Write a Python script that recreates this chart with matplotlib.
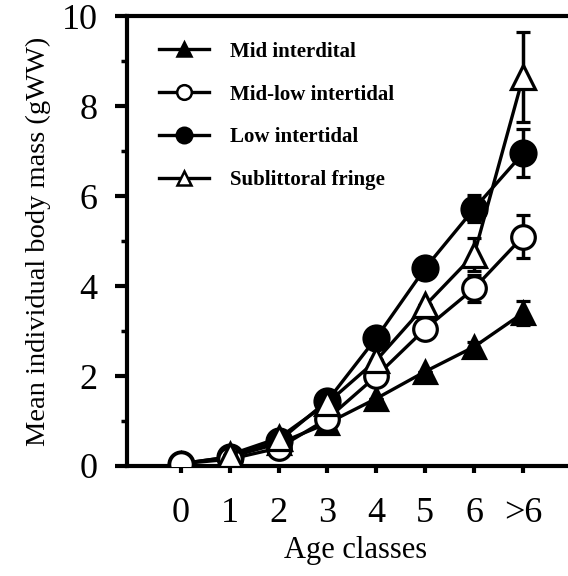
import matplotlib
matplotlib.use("Agg")
import matplotlib.pyplot as plt
from matplotlib.lines import Line2D
from matplotlib.ticker import MultipleLocator

# Age classes (">6" plotted at position 7)
age_pos = [0, 1, 2, 3, 4, 5, 6, 7]
age_labels = ["0", "1", "2", "3", "4", "5", "6", ">6"]

mid = [0.05, 0.2, 0.5, 0.95, 1.5, 2.1, 2.65, 3.4]
mid_err = [0, 0, 0, 0, 0, 0, 0.1, 0.27]

midlow = [0.05, 0.15, 0.4, 1.05, 2.0, 3.05, 3.95, 5.1]
midlow_err = [0, 0, 0, 0, 0, 0, 0.3, 0.47]

low = [0.05, 0.2, 0.55, 1.45, 2.85, 4.4, 5.72, 6.95]
low_err = [0, 0, 0, 0, 0, 0.2, 0.3, 0.53]

# no visible point at age 0 for the sublittoral fringe
sub = [float("nan"), 0.25, 0.62, 1.4, 2.35, 3.57, 4.7, 8.65]
sub_err = [0, 0, 0, 0, 0, 0, 0.37, 1.0]

plt.rcParams.update({
    "font.family": ["Liberation Serif", "DejaVu Serif"],
})

fig = plt.figure(figsize=(5.68, 5.76), dpi=100)
ax = fig.add_axes([0.2236, 0.191, 0.773, 0.781])

lw = 2.4
common = dict(color="black", linewidth=lw, capsize=5, capthick=2.5,
              elinewidth=2.5, markeredgewidth=2.3, markeredgecolor="black")

# (values, errors, marker, face, size, label, zorder)
series = [
    (mid, mid_err, "^", "black", 16, "Mid interdital", 3),
    (midlow, midlow_err, "o", "white", 17, "Mid-low intertidal", 5),
    (low, low_err, "o", "black", 18, "Low intertidal", 4),
    (sub, sub_err, "^", "white", 17, "Sublittoral fringe", 6),
]

handles = []
for vals, err, mk, fc, ms, name, z in series:
    ax.errorbar(age_pos, vals, yerr=err, marker=mk, markerfacecolor=fc,
                markersize=ms, zorder=z, **common)
    # legend entry without error bars, smaller marker
    handles.append(Line2D([], [], color="black", linewidth=lw, marker=mk,
                          markerfacecolor=fc, markeredgecolor="black",
                          markeredgewidth=1.8, markersize=ms * 0.62,
                          label=name))

ax.set_xlim(-1.1, 7.88)
ax.set_ylim(0, 10)
ax.set_xticks(age_pos)
ax.set_xticklabels(age_labels)
ax.yaxis.set_major_locator(MultipleLocator(2))
ax.yaxis.set_minor_locator(MultipleLocator(1))

for s in ["left", "top", "bottom"]:
    ax.spines[s].set_linewidth(3)
ax.spines["right"].set_visible(False)

ax.tick_params(axis="y", which="major", direction="out", length=9, width=3,
               labelsize=26, pad=12)
ax.tick_params(axis="y", which="minor", direction="out", length=4, width=2.5)
ax.tick_params(axis="x", which="major", direction="out", length=5, width=3,
               labelsize=26, pad=17)

ax.set_xlabel("Age classes", fontsize=22, labelpad=2)
ax.xaxis.set_label_coords(0.52, -0.155)
ax.set_ylabel("Mean individual body mass (gWW)", fontsize=20.5, labelpad=8)

ax.legend(handles=handles, loc="upper left", bbox_to_anchor=(0.03, 0.985),
          frameon=False, handlelength=2.4, labelspacing=1.1,
          handletextpad=1.0, prop={"weight": "bold", "size": 15})

fig.savefig("out.png", dpi=100)
